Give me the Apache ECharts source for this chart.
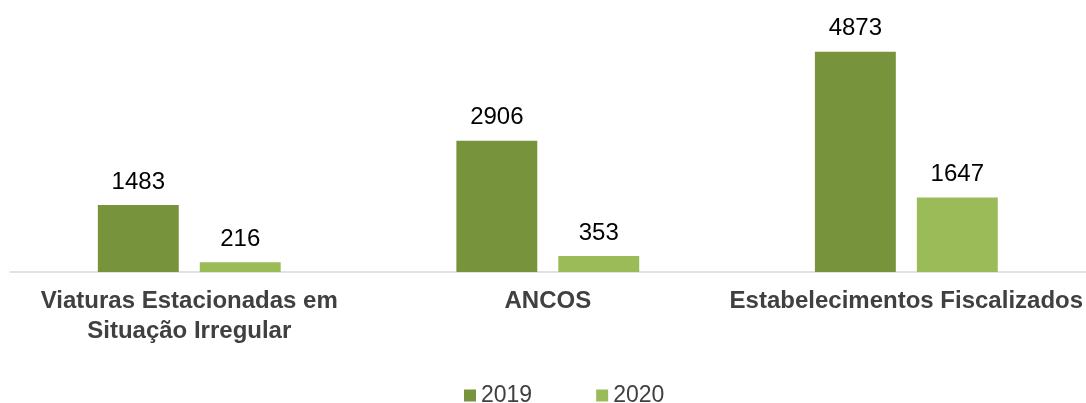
<!DOCTYPE html>
<html>
<head>
<meta charset="utf-8">
<script src="https://cdn.jsdelivr.net/npm/echarts@6/dist/echarts.min.js"></script>
<style>html,body{margin:0;padding:0;background:#fff}#c{width:1086px;height:403px}</style>
</head>
<body>
<div id="c"></div>
<script>
var categories = ['Viaturas Estacionadas em\nSituação Irregular', 'ANCOS', 'Estabelecimentos Fiscalizados'];
var seriesNames = ['2019', '2020'];
var values2019 = [1483, 2906, 4873];
var values2020 = [216, 353, 1647];
var colors = ['#77933C', '#9BBB59'];

var chart = echarts.init(document.getElementById('c'), null, {renderer: 'canvas'});
var labelStyle = {show: true, position: 'top', distance: 11, color: '#000', fontSize: 24, fontFamily: 'Liberation Sans, Arial, sans-serif'};
chart.setOption({
  animation: false,
  grid: {left: 10, right: 0, top: 46, bottom: 131, containLabel: false},
  legend: {
    top: 384, left: 464,
    data: seriesNames,
    itemWidth: 12, itemHeight: 12, itemGap: 64,
    icon: 'rect',
    padding: 0,
    textStyle: {fontSize: 23, color: '#404040', fontFamily: 'Liberation Sans, Arial, sans-serif'}
  },
  xAxis: {
    type: 'category', data: categories,
    axisLine: {lineStyle: {color: '#D9D9D9', width: 1.5}},
    axisTick: {show: false},
    axisLabel: {fontSize: 24, fontWeight: 'bold', color: '#404040', lineHeight: 30, margin: 14, interval: 0, fontFamily: 'Liberation Sans, Arial, sans-serif'}
  },
  yAxis: {type: 'value', min: 0, max: 5000, show: false, splitLine: {show: false}},
  series: [
    {name: seriesNames[0], type: 'bar', data: values2019, itemStyle: {color: colors[0]}, barGap: '26%', barCategoryGap: '49%', label: labelStyle},
    {name: seriesNames[1], type: 'bar', data: values2020, itemStyle: {color: colors[1]}, label: labelStyle}
  ]
});
</script>
</body>
</html>
